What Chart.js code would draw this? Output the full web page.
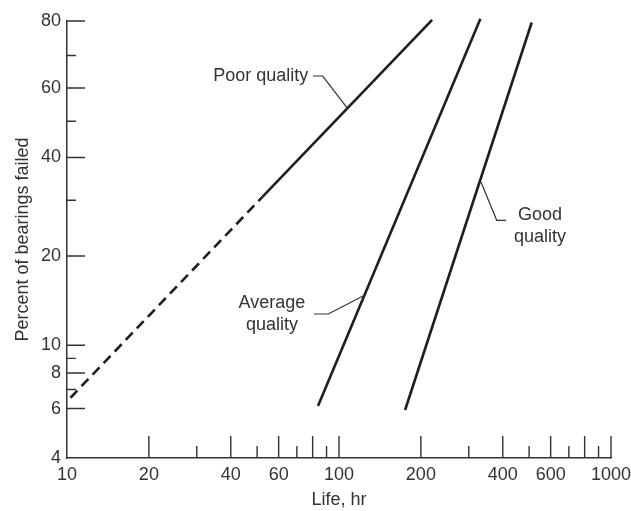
<!DOCTYPE html>
<html>
<head>
<meta charset="utf-8">
<script src="https://cdn.jsdelivr.net/npm/chart.js@4/dist/chart.umd.min.js"></script>
<style>
  html, body { margin: 0; padding: 0; background: #fff; }
  #wrap { width: 631px; height: 511px; }
</style>
</head>
<body>
<div id="wrap"><canvas id="chart"></canvas></div>
<script>
// life in hours (x) vs percent of bearings failed (y, Weibull paper)
const poorDashedLife = [10.3, 52.3];
const poorDashedPct = [6.55, 30.7];
const poorLife = [52.3, 220];
const poorPct = [30.7, 80.3];
const averageLife = [83.7, 331];
const averagePct = [6.13, 80.6];
const goodLife = [175, 511];
const goodPct = [5.93, 79.6];

const xTickValues = [10, 20, 30, 40, 50, 60, 70, 80, 90, 100, 200, 300, 400, 500, 600, 700, 800, 900, 1000];
const xLabels = [10, 20, 40, 60, 100, 200, 400, 600, 1000];
const xLongTicks = [20, 40, 60, 80, 100, 200, 400, 600, 800, 1000];
const xShortTicks = [30, 50, 70, 90, 300, 500, 700, 900];

const yTickValues = [4, 6, 7, 8, 9, 10, 20, 30, 40, 50, 60, 70, 80];
const yLabels = [4, 6, 8, 10, 20, 40, 60, 80];
const yLongTicks = [6, 8, 10, 20, 40, 60, 80];
const yShortTicks = [7, 9, 30, 50, 70];

// callouts: anchor on the curve in data units, the rest in pixels from it
const callouts = [
  { life: 107.3, pct: 53.9, path: [[-24.6, -32], [-34.3, -32]], lines: ['Poor quality'], align: 'right', tx: -39, ty: -32 },
  { life: 124.6, pct: 14.85, path: [[-36.7, 19], [-51, 19]], lines: ['Average', 'quality'], align: 'center', tx: -93, ty: 8.5 },
  { life: 332.7, pct: 34.0, path: [[15.7, 38.3], [25, 38.3]], lines: ['Good', 'quality'], align: 'center', tx: 59, ty: 33 }
];

const wb = p => Math.log(-Math.log(1 - p / 100));
const wbInv = u => 100 * (1 - Math.exp(-Math.exp(u)));

class WeibullScale extends Chart.Scale {
  determineDataLimits() {
    this.min = this.options.min;
    this.max = this.options.max;
  }
  buildTicks() {
    return yTickValues.map(v => ({ value: v }));
  }
  getLabelForValue(v) { return String(v); }
  configure() {
    super.configure();
    this._uMin = wb(this.min);
    this._uMax = wb(this.max);
  }
  getPixelForValue(v) {
    return this.getPixelForDecimal((wb(v) - this._uMin) / (this._uMax - this._uMin));
  }
  getValueForPixel(px) {
    return wbInv(this._uMin + this.getDecimalForPixel(px) * (this._uMax - this._uMin));
  }
}
WeibullScale.id = 'weibull';
WeibullScale.defaults = {};
Chart.register(WeibullScale);

const ink = '#1e1e1e';
const textInk = '#333';

function pairs(xs, ys) {
  return xs.map((x, i) => ({ x: x, y: ys[i] }));
}

function lineSet(xs, ys, dash) {
  return {
    data: pairs(xs, ys),
    borderColor: ink,
    borderWidth: 2.6,
    borderDash: dash || [],
    pointRadius: 0,
    tension: 0,
    clip: false
  };
}

const markPlugin = {
  id: 'marks',
  afterDatasetsDraw(chart) {
    const ctx = chart.ctx;
    const xs = chart.scales.x, ys = chart.scales.y;
    const area = chart.chartArea;
    ctx.save();
    ctx.strokeStyle = '#333';
    ctx.lineWidth = 1.4;
    ctx.beginPath();
    xLongTicks.forEach(v => { const p = xs.getPixelForValue(v); ctx.moveTo(p, area.bottom); ctx.lineTo(p, area.bottom - 22); });
    xShortTicks.forEach(v => { const p = xs.getPixelForValue(v); ctx.moveTo(p, area.bottom); ctx.lineTo(p, area.bottom - 12); });
    yLongTicks.forEach(v => { const p = ys.getPixelForValue(v); ctx.moveTo(area.left, p); ctx.lineTo(area.left + 18, p); });
    yShortTicks.forEach(v => { const p = ys.getPixelForValue(v); ctx.moveTo(area.left, p); ctx.lineTo(area.left + 9, p); });
    ctx.stroke();

    ctx.lineWidth = 1.2;
    ctx.font = '18px "Liberation Sans", Arial, sans-serif';
    ctx.fillStyle = textInk;
    ctx.textBaseline = 'middle';
    callouts.forEach(c => {
      const ax = xs.getPixelForValue(c.life), ay = ys.getPixelForValue(c.pct);
      ctx.beginPath();
      ctx.moveTo(ax, ay);
      c.path.forEach(pt => ctx.lineTo(ax + pt[0], ay + pt[1]));
      ctx.stroke();
      ctx.textAlign = c.align;
      c.lines.forEach((t, i) => ctx.fillText(t, ax + c.tx, ay + c.ty + i * 22));
    });
    ctx.restore();
  }
};

Chart.defaults.font.family = '"Liberation Sans", Arial, sans-serif';
Chart.defaults.font.size = 18;
Chart.defaults.color = textInk;

new Chart(document.getElementById('chart'), {
  type: 'line',
  data: {
    datasets: [
      lineSet(poorDashedLife, poorDashedPct, [10, 6]),
      lineSet(poorLife, poorPct),
      lineSet(averageLife, averagePct),
      lineSet(goodLife, goodPct)
    ]
  },
  options: {
    responsive: true,
    maintainAspectRatio: false,
    animation: false,
    layout: { padding: { left: 0, top: 21, right: 20, bottom: 0 } },
    plugins: { legend: { display: false }, tooltip: { enabled: false } },
    scales: {
      x: {
        type: 'logarithmic',
        min: 10,
        max: 1000,
        grid: { display: false, drawTicks: false },
        border: { display: true, color: '#333', width: 1.5 },
        afterBuildTicks: s => { s.ticks = xTickValues.map(v => ({ value: v })); },
        afterFit: s => { s.height = 53; s.paddingLeft = 0; s.paddingRight = 0; },
        ticks: {
          autoSkip: false,
          maxRotation: 0,
          padding: 6,
          color: textInk,
          callback: v => xLabels.includes(v) ? String(v) : ''
        },
        title: { display: true, text: 'Life, hr', color: textInk, padding: { top: 0, bottom: 0 } }
      },
      y: {
        type: 'weibull',
        min: 4,
        max: 80,
        grid: { display: false, drawTicks: false },
        border: { display: true, color: '#333', width: 1.5 },
        afterFit: s => { s.width = 67; s.paddingTop = 0; s.paddingBottom = 0; },
        ticks: {
          autoSkip: false,
          padding: 6,
          color: textInk,
          callback: v => yLabels.includes(v) ? String(v) : ''
        },
        title: { display: true, text: 'Percent of bearings failed', color: textInk, padding: { top: 12, bottom: 0 } }
      }
    }
  },
  plugins: [markPlugin]
});
</script>
</body>
</html>
